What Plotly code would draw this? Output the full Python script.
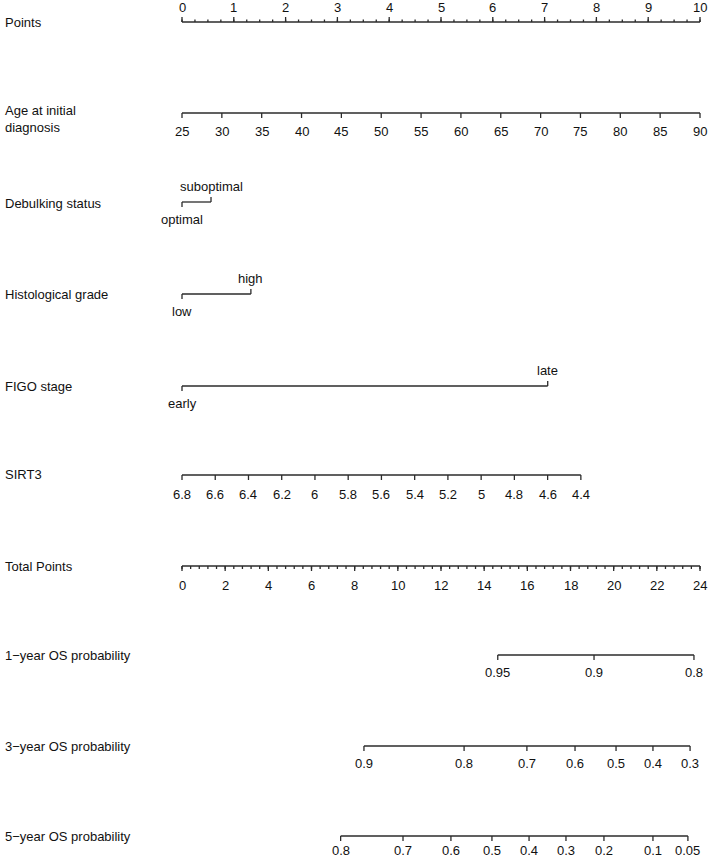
import plotly.graph_objects as go

# ---------------- data ----------------
points_ticks = [0, 1, 2, 3, 4, 5, 6, 7, 8, 9, 10]
points_minor_step = 0.25

age_ticks = [25, 30, 35, 40, 45, 50, 55, 60, 65, 70, 75, 80, 85, 90]
age_min, age_max = 25, 90

debulk_levels = ["optimal", "suboptimal"]
debulk_points = [0.0, 0.56]

grade_levels = ["low", "high"]
grade_points = [0.0, 1.33]

figo_levels = ["early", "late"]
figo_points = [0.0, 7.06]

sirt3_ticks = [6.8, 6.6, 6.4, 6.2, 6, 5.8, 5.6, 5.4, 5.2, 5, 4.8, 4.6, 4.4]
sirt3_max_points = 7.7

total_ticks = [0, 2, 4, 6, 8, 10, 12, 14, 16, 18, 20, 22, 24]
total_minor_step = 0.4
total_max = 24

os1_probs = ["0.95", "0.9", "0.8"]
os1_total = [14.63, 19.09, 23.72]

os3_probs = ["0.9", "0.8", "0.7", "0.6", "0.5", "0.4", "0.3"]
os3_total = [8.43, 13.07, 15.98, 18.21, 20.11, 21.82, 23.54]

os5_probs = ["0.8", "0.7", "0.6", "0.5", "0.4", "0.3", "0.2", "0.1", "0.05"]
os5_total = [7.35, 10.24, 12.46, 14.36, 16.08, 17.79, 19.55, 21.82, 23.44]

row_labels = ["Points", "Age at initial<br>diagnosis", "Debulking status",
              "Histological grade", "FIGO stage", "SIRT3", "Total Points",
              "1\u2212year OS probability", "3\u2212year OS probability",
              "5\u2212year OS probability"]

# ---------------- layout (pixel rows) ----------------
W, H = 709, 859
X0, PX_PER_PT = 182.0, 51.8
row_y = [22, 113, 202, 294, 386, 475, 566, 655, 746, 836]
label_y = [22, 119, 203, 294, 386, 474, 566, 655, 746, 836]
LINE_COLOR = "#2b2b2b"
FONT = dict(family="Liberation Sans, Arial, sans-serif", size=13, color="#111111")

fig = go.Figure()
seg_x, seg_y = [], []
annotations = []


def seg(x1, y1, x2, y2):
    seg_x.extend([x1, x2, None])
    seg_y.extend([y1, y2, None])


def text(x, y, s, anchor="center"):
    annotations.append(dict(x=x, y=y, xref="x", yref="y", text=s, showarrow=False,
                            xanchor=anchor, yanchor="middle", align=anchor,
                            font=FONT))


def scale_axis(pos, labels, y, tick_dir=1, tick_len=5, label_off=17, minor=None, minor_len=3):
    seg(min(pos), y, max(pos), y)
    for p, lab in zip(pos, labels):
        seg(p, y, p, y + tick_dir * tick_len)
        text(p, y + tick_dir * label_off, lab)
    if minor:
        for p in minor:
            seg(p, y, p, y + tick_dir * minor_len)


# Points
n_minor = int(round((points_ticks[-1] - points_ticks[0]) / points_minor_step))
pmin = [points_ticks[0] + i * points_minor_step for i in range(n_minor + 1)]
scale_axis(points_ticks, [str(t) for t in points_ticks], row_y[0], tick_dir=-1,
           tick_len=5, label_off=15, minor=pmin, minor_len=2.5)

# Age
age_pos = [(a - age_min) / (age_max - age_min) * 10 for a in age_ticks]
scale_axis(age_pos, [str(a) for a in age_ticks], row_y[1], tick_dir=1, label_off=18)


# Categorical bracket rows
def bracket(levels, pts, y):
    seg(pts[0], y, pts[1], y)
    seg(pts[0], y, pts[0], y + 5)
    seg(pts[1], y, pts[1], y - 5)
    text(pts[0], y + 17, levels[0])
    text(pts[1], y - 16, levels[1])


bracket(debulk_levels, debulk_points, row_y[2])
bracket(grade_levels, grade_points, row_y[3])
bracket(figo_levels, figo_points, row_y[4])

# SIRT3
s_hi, s_lo = max(sirt3_ticks), min(sirt3_ticks)
sirt_pos = [(s_hi - v) / (s_hi - s_lo) * sirt3_max_points for v in sirt3_ticks]
scale_axis(sirt_pos, [f"{v:g}" for v in sirt3_ticks], row_y[5], tick_dir=1, label_off=19)

# Total points
to_pts = lambda tp: tp * 10.0 / total_max
n_tminor = int(round(total_max / total_minor_step))
tmin = [to_pts(i * total_minor_step) for i in range(n_tminor + 1)]
scale_axis([to_pts(t) for t in total_ticks], [str(t) for t in total_ticks], row_y[6],
           tick_dir=1, tick_len=5, label_off=19, minor=tmin, minor_len=3)

# Probability rows
scale_axis([to_pts(t) for t in os1_total], os1_probs, row_y[7], tick_dir=1, label_off=17)
scale_axis([to_pts(t) for t in os3_total], os3_probs, row_y[8], tick_dir=1, label_off=17)
scale_axis([to_pts(t) for t in os5_total], os5_probs, row_y[9], tick_dir=1, label_off=14)

# Row labels
x_left = (3 - X0) / PX_PER_PT
for lab, y in zip(row_labels, label_y):
    text(x_left, y, lab, anchor="left")

fig.add_trace(go.Scatter(x=seg_x, y=seg_y, mode="lines",
                         line=dict(color=LINE_COLOR, width=1.3),
                         hoverinfo="skip", showlegend=False))

fig.update_layout(
    width=W, height=H,
    margin=dict(l=0, r=0, t=0, b=0),
    paper_bgcolor="white", plot_bgcolor="white",
    annotations=annotations,
    showlegend=False,
    xaxis=dict(range=[-X0 / PX_PER_PT, (W - X0) / PX_PER_PT], visible=False, fixedrange=True),
    yaxis=dict(range=[H, 0], visible=False, fixedrange=True),
)

fig.write_html("out.html", config={"displayModeBar": False},
               post_script="document.body.style.margin='0';document.body.style.overflow='hidden';")
